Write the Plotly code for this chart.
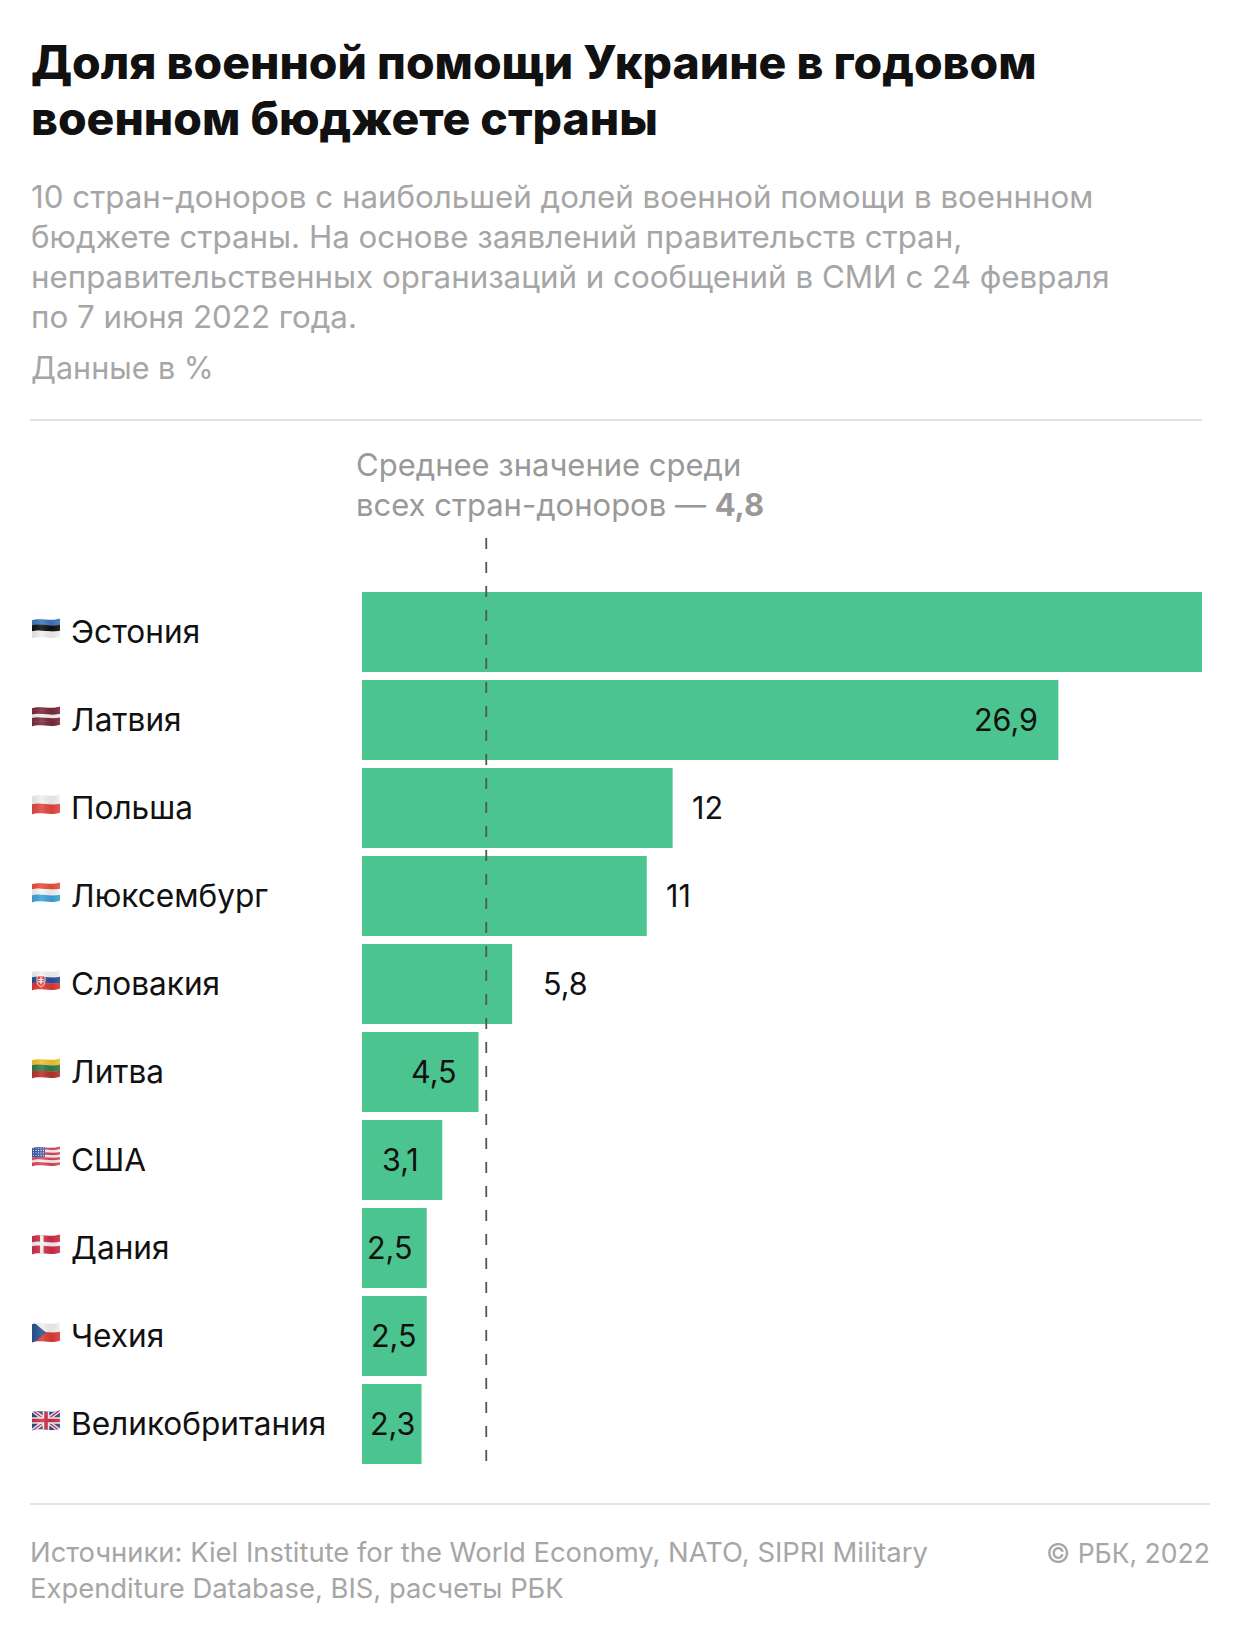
import base64
import plotly.graph_objects as go

W, H = 1240, 1644
FONT = "Inter"

COUNTRIES = ["Эстония", "Латвия", "Польша", "Люксембург", "Словакия", "Литва", "США", "Дания", "Чехия", "Великобритания"]
VALUES = [32.5, 26.9, 12, 11, 5.8, 4.5, 3.1, 2.5, 2.5, 2.3]
VALUE_LABELS = ["32,5", "26,9", "12", "11", "5,8", "4,5", "3,1", "2,5", "2,5", "2,3"]
MEAN_VALUE = 4.8
FLAG_CODES = ["ee", "lv", "pl", "lu", "sk", "lt", "us", "dk", "cz", "gb"]

TITLE_LINES = ["Доля военной помощи Украине в годовом", "военном бюджете страны"]
SUBTITLE_LINES = [
    "10 стран-доноров с наибольшей долей военной помощи в военнном",
    "бюджете страны. На основе заявлений правительств стран,",
    "неправительственных организаций и сообщений в СМИ с 24 февраля",
    "по 7 июня 2022 года.",
]
UNIT_TEXT = "Данные в %"
MEAN_LINES = ["Среднее значение среди", "всех стран-доноров — <b>4,8</b>"]
SOURCE_LINES = ["Источники: Kiel Institute for the World Economy, NATO, SIPRI Military",
                "Expenditure Database, BIS, расчеты РБК"]
COPYRIGHT = "© РБК, 2022"

# label placement relative to each bar end: (anchor, pixel shift)
LABEL_PLACEMENT = [("right", -18), ("right", -18), ("left", 17), ("left", 17), ("left", 29),
                   ("right", -19), ("right", -21), ("right", -12), ("right", -8), ("right", -5)]


def px(x):
    return x / W


def py(y):
    return 1 - y / H


def wave(y0, y1, color):
    return (f'<path fill="{color}" d="M-1,{y0} C8,{y0-3} 18,{y0+2} 29,{y0-1} '
            f'L29,{y1-1} C18,{y1+2} 8,{y1-3} -1,{y1} Z"/>')


def stripes(colors):
    n = len(colors)
    out = ""
    for i, c in enumerate(colors):
        top = 1.5 + i * 18 / n
        bottom = 1.5 + (i + 1) * 18 / n
        out += wave(round(top - (2 if i == 0 else 0), 2), round(bottom + (2 if i == n - 1 else 0) + 0.3, 2), c)
    return out


def flag_body(code):
    if code == "ee":
        return stripes(["#3f76bd", "#111111", "#f0f0f0"])
    if code == "lv":
        return stripes(["#7b2a3b", "#7b2a3b", "#f4f0f0", "#7b2a3b", "#7b2a3b"])
    if code == "pl":
        return stripes(["#f1f1f1", "#e2483f"])
    if code == "lu":
        return stripes(["#e8503f", "#f4f4f4", "#3fa3d8"])
    if code == "sk":
        return stripes(["#f2f2f2", "#2a4fa0", "#dc3a34"]) + (
            '<path fill="#dc3a34" stroke="#fff" stroke-width="0.8" d="M5,6 h8 v6 q0,3 -4,5 q-4,-2 -4,-5 Z"/>'
            '<path fill="#fff" d="M8.4,7 h1.2 v2 h2 v1 h-2 v1.2 h2.4 v1 h-2.4 v2 h-1.2 v-2 h-2.4 v-1 h2.4 v-1.2 h-2 v-1 h2 Z"/>')
    if code == "lt":
        return stripes(["#f0c22e", "#2e7d4a", "#b8332f"])
    if code == "us":
        body = stripes(["#d8475a", "#f5f0f0"] * 3 + ["#d8475a"])
        return body + '<rect x="0" y="-2" width="13" height="13" fill="#3b5ba5"/>' + "".join(
            f'<circle cx="{1.5 + 2.5 * i}" cy="{2 + 2.4 * j}" r="0.55" fill="#fff"/>'
            for i in range(5) for j in range(4))
    if code == "dk":
        return ('<rect x="0" y="-2" width="28" height="25" fill="#cf2f48"/>'
                '<rect x="8" y="-2" width="3.6" height="25" fill="#f4f0f0"/>'
                + wave(8.5, 12.5, "#f4f0f0"))
    if code == "cz":
        return stripes(["#f1f1f1", "#dd3b36"]) + '<path fill="#26558f" d="M-1,-2 L14,10.5 L-1,23 Z"/>'
    return ('<rect x="0" y="-2" width="28" height="25" fill="#2d4a8c"/>'
            '<path stroke="#f5f5f5" stroke-width="4" d="M0,0 L28,21 M28,0 L0,21"/>'
            '<path stroke="#cf2f48" stroke-width="1.4" d="M0,0 L28,21 M28,0 L0,21"/>'
            '<path stroke="#f5f5f5" stroke-width="6.5" d="M14,-2 V23 M0,10.5 H28"/>'
            '<path stroke="#cf2f48" stroke-width="3.6" d="M14,-2 V23 M0,10.5 H28"/>')


def flag_uri(code):
    svg = (
        '<svg xmlns="http://www.w3.org/2000/svg" width="28" height="21" viewBox="0 0 28 21">'
        '<defs><clipPath id="c"><path d="M0,2.2 C8,-0.8 18,3.8 28,0.6 L28,18.8 C18,22 8,17.4 0,20.4 Z"/></clipPath>'
        '<linearGradient id="g" x1="0" y1="0" x2="1" y2="0">'
        '<stop offset="0" stop-color="#000" stop-opacity="0.08"/>'
        '<stop offset="0.35" stop-color="#fff" stop-opacity="0.12"/>'
        '<stop offset="0.7" stop-color="#000" stop-opacity="0.06"/>'
        '<stop offset="1" stop-color="#fff" stop-opacity="0.1"/></linearGradient></defs>'
        f'<g clip-path="url(#c)">{flag_body(code)}<rect x="0" y="-2" width="28" height="25" fill="url(#g)"/></g></svg>'
    )
    return "data:image/svg+xml;base64," + base64.b64encode(svg.encode()).decode()


fig = go.Figure(go.Bar(
    x=VALUES, y=COUNTRIES, orientation="h",
    marker=dict(color="#4bc48f", line_width=0),
    width=80 / 88, hoverinfo="skip",
))

annotations = []


def add_text(x, y, text, size, color, anchor="left", weight=None):
    font = dict(family=FONT, size=size, color=color)
    if weight:
        font["weight"] = weight
    annotations.append(dict(xref="paper", yref="paper", x=px(x), y=py(y), text=text, showarrow=False,
                            xanchor=anchor, yanchor="middle", font=font, borderpad=0, borderwidth=0))


for yy, line in zip((62, 118), TITLE_LINES):
    add_text(31, yy, line, 46.3, "#111111", weight=800)
for yy, line in zip((197, 237, 277, 317), SUBTITLE_LINES):
    add_text(31, yy, line, 31.3, "#a6a6a6")
add_text(31, 367, UNIT_TEXT, 30.5, "#a6a6a6")
for yy, line in zip((464, 504), MEAN_LINES):
    add_text(356, yy, line, 31, "#999999")
for yy, line in zip((1552, 1588), SOURCE_LINES):
    add_text(30, yy, line, 27.4, "#a6a6a6")
add_text(1210, 1553, COPYRIGHT, 26.5, "#a6a6a6", anchor="right")

for i, (name, val, lab, (anch, shift)) in enumerate(zip(COUNTRIES, VALUES, VALUE_LABELS, LABEL_PLACEMENT)):
    annotations.append(dict(xref="paper", yref="y", x=px(68.5), y=name, text=name, showarrow=False, xanchor="left",
                            yanchor="middle", yshift=1, font=dict(family=FONT, size=31.6, color="#111111")))
    annotations.append(dict(xref="x", yref="y", x=val, y=name, text=lab, showarrow=False, xanchor=anch,
                            xshift=shift, yanchor="middle", yshift=1, font=dict(family=FONT, size=30.5, color="#111111")))

images = [dict(source=flag_uri(c), xref="paper", yref="paper", x=px(32), y=py(618 + 88 * i),
               sizex=28 / W, sizey=21 / H, xanchor="left", yanchor="top", sizing="stretch", layer="above")
          for i, c in enumerate(FLAG_CODES)]

shapes = [
    dict(type="line", xref="paper", yref="paper", x0=px(30), x1=px(1202), y0=py(420), y1=py(420),
         line=dict(color="#e2e2e2", width=2)),
    dict(type="line", xref="paper", yref="paper", x0=px(30), x1=px(1210), y0=py(1504), y1=py(1504),
         line=dict(color="#e2e2e2", width=2)),
    dict(type="line", xref="x", yref="paper", x0=MEAN_VALUE, x1=MEAN_VALUE, y0=py(538), y1=py(1464),
         line=dict(color="#555555", width=1.8, dash="11px,13px"), layer="above"),
]

fig.update_layout(
    width=W, height=H, margin=dict(l=0, r=0, t=0, b=0), paper_bgcolor="#ffffff", plot_bgcolor="#ffffff",
    showlegend=False, annotations=annotations, shapes=shapes, images=images,
    xaxis=dict(domain=[px(362), px(1202)], range=[0, 32.45], visible=False, fixedrange=True),
    yaxis=dict(domain=[py(1468), py(588)], type="category", categoryorder="array", categoryarray=COUNTRIES,
               autorange="reversed", visible=False, fixedrange=True),
)

fig.write_html("out.html", config=dict(displayModeBar=False),
               post_script="document.body.style.margin='0';document.body.style.overflow='hidden';")
